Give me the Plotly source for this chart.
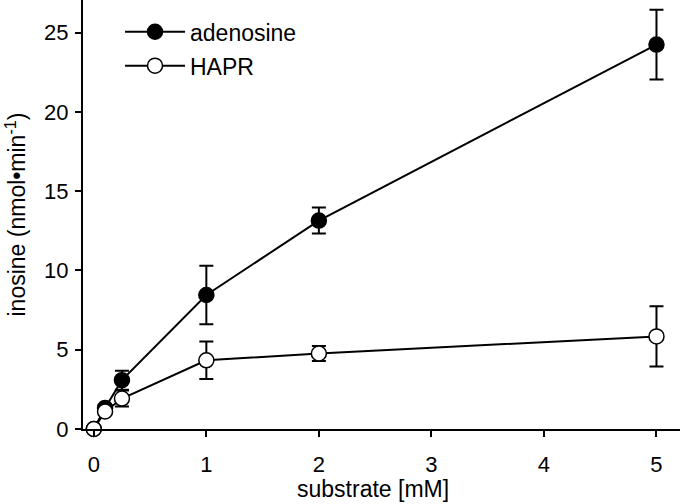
import plotly.graph_objects as go

substrate = [0, 0.1, 0.25, 1, 2, 5]
adenosine = [0, 1.33, 3.08, 8.45, 13.14, 24.24]
adenosine_err = [0, 0.2, 0.6, 1.85, 0.82, 2.2]
hapr = [0, 1.11, 1.92, 4.33, 4.76, 5.84]
hapr_err = [0, 0.15, 0.5, 1.18, 0.47, 1.9]

x_ticks = [0, 1, 2, 3, 4, 5]
y_ticks = [0, 5, 10, 15, 20, 25]

FONT = "Liberation Sans, Arial, sans-serif"

fig = go.Figure()
fig.add_trace(go.Scatter(
    x=substrate, y=adenosine, name="adenosine", mode="lines+markers",
    line=dict(color="black", width=2),
    marker=dict(size=15, color="black", line=dict(color="black", width=1.5)),
    error_y=dict(type="data", array=adenosine_err, color="black", thickness=2, width=7),
    cliponaxis=False, legendgroup="a",
))
fig.add_trace(go.Scatter(
    x=substrate, y=hapr, name="HAPR", mode="lines+markers",
    line=dict(color="black", width=2),
    marker=dict(size=15, color="white", line=dict(color="black", width=1.5)),
    error_y=dict(type="data", array=hapr_err, color="black", thickness=2, width=7),
    cliponaxis=False, legendgroup="b",
))

fig.update_layout(
    width=680, height=504,
    margin=dict(l=83, r=0, t=0, b=75, autoexpand=False),
    paper_bgcolor="white", plot_bgcolor="white",
    font=dict(family=FONT, size=22, color="black"),
    showlegend=True,
    legend=dict(x=0.062, y=0.976, xanchor="left", yanchor="top",
                bgcolor="rgba(0,0,0,0)", font=dict(size=23),
                tracegroupgap=1, itemwidth=60),
    xaxis=dict(range=[-0.096, 5.209], tickvals=x_ticks, ticktext=[str(v) for v in x_ticks],
               showgrid=False, zeroline=False, showline=True, linecolor="black", linewidth=2,
               ticks="outside", ticklen=6, tickwidth=2, tickcolor="black",
               ticklabelstandoff=9, tickfont=dict(size=22)),
    yaxis=dict(range=[0, 27.05], tickvals=y_ticks, ticktext=[str(v) for v in y_ticks],
               showgrid=False, zeroline=False, showline=True, linecolor="black", linewidth=2,
               ticks="outside", ticklen=6, tickwidth=2, tickcolor="black",
               ticklabelstandoff=2, tickfont=dict(size=22)),
    annotations=[
        dict(text="substrate [mM]", xref="paper", yref="paper",
             x=(373 - 83) / 597, y=-(489 - 429) / 429, xanchor="center", yanchor="middle",
             showarrow=False, font=dict(size=23)),
        dict(text="inosine (nmol•min<sup>-1</sup>)", xref="paper", yref="paper",
             x=-(83 - 15) / 597, y=0.5, xanchor="center", yanchor="middle",
             textangle=-90, showarrow=False, font=dict(size=23)),
    ],
)

fig.write_html("out.html", config={"displayModeBar": False},
               post_script="document.body.style.margin='0';document.body.style.overflow='hidden';")
